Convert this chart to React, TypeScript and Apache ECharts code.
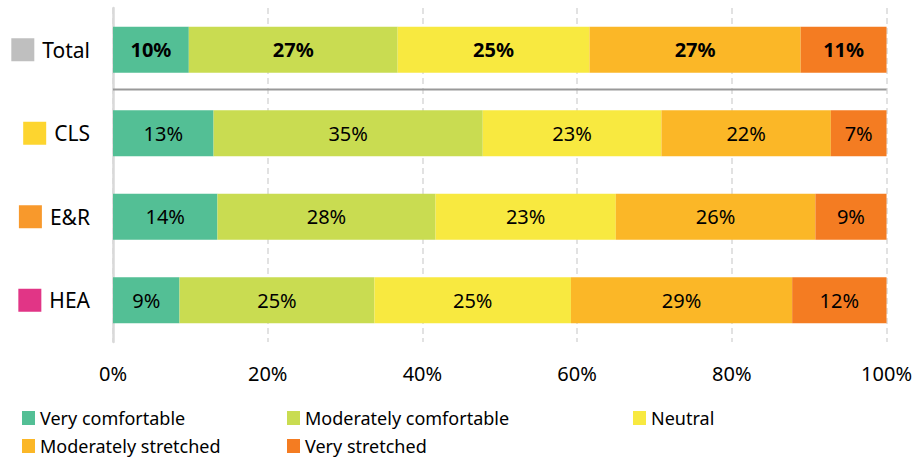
import React, { useEffect, useRef } from "react";
import * as echarts from "echarts";

const categories = ["Total", "CLS", "E&R", "HEA"];
const categoryColors = ["#bfbfbf", "#fdd52f", "#f8992c", "#e13586"];
const seriesNames = [
  "Very comfortable",
  "Moderately comfortable",
  "Neutral",
  "Moderately stretched",
  "Very stretched",
];
const seriesColors = ["#53bf95", "#c9dc51", "#f8e940", "#fbb727", "#f47c22"];
// percentages per category (Total, CLS, E&R, HEA)
const veryComfortable = [9.8, 13.0, 13.5, 8.6];
const moderatelyComfortable = [27.0, 34.8, 28.2, 25.2];
const neutral = [24.8, 23.1, 23.3, 25.4];
const moderatelyStretched = [27.3, 21.9, 25.8, 28.6];
const veryStretched = [11.1, 7.2, 9.2, 12.2];
const xTicks = [0, 20, 40, 60, 80, 100];

const seriesValues = [
  veryComfortable,
  moderatelyComfortable,
  neutral,
  moderatelyStretched,
  veryStretched,
];

// legend layout: [left, top] per series
const legendPos = [
  [22, 408],
  [287, 408],
  [633, 408],
  [22, 436],
  [287, 436],
];

const FONT = "'Noto Sans', 'DejaVu Sans', sans-serif";

export default function App() {
  const ref = useRef<HTMLDivElement>(null);
  useEffect(() => {
    document.body.style.margin = "0";
    if (!ref.current) return;
    const chart = echarts.init(ref.current, null, { renderer: "svg" });
    const rich: Record<string, any> = {
      t: { fontSize: 21, color: "#000", fontFamily: FONT, padding: [0, 0, 0, 8] },
    };
    categories.forEach((c, i) => {
      rich["s" + i] = {
        backgroundColor: categoryColors[i],
        width: 23,
        height: 23,
      };
    });
    chart.setOption({
      animation: false,
      textStyle: { fontFamily: FONT },
      grid: { left: 113, right: 28, top: 8, bottom: 116 },
      legend: seriesNames.map((name, i) => ({
        left: legendPos[i][0],
        top: legendPos[i][1],
        padding: 0,
        itemWidth: 13,
        itemHeight: 14,
        icon: "rect",
        data: [name],
        textStyle: { fontSize: 18, color: "#000", fontFamily: FONT, lineHeight: 20 },
      })),
      xAxis: {
        type: "value",
        min: xTicks[0],
        max: xTicks[xTicks.length - 1],
        interval: 20,
        axisLine: { show: false },
        axisTick: { show: false },
        axisLabel: {
          formatter: "{value}%",
          fontSize: 20,
          color: "#000",
          fontFamily: FONT,
          margin: 21,
        },
        splitLine: {
          show: true,
          lineStyle: { color: "#d9d9d9", width: 1.5, type: [6, 4] },
        },
      },
      yAxis: {
        type: "category",
        inverse: true,
        data: categories,
        axisLine: { show: true, lineStyle: { color: "#d9d9d9", width: 2.5 } },
        axisTick: { show: false },
        axisLabel: {
          margin: 23,
          formatter: (v: string) => {
            const i = categories.indexOf(v);
            return `{s${i}|}{t|${v}}`;
          },
          rich,
        },
        splitLine: { show: false },
      },
      series: seriesNames.map((name, si) => ({
        name,
        type: "bar",
        stack: "all",
        barWidth: "55%",
        itemStyle: { color: seriesColors[si] },
        label: {
          show: true,
          position: "inside",
          fontSize: 20,
          color: "#000",
          fontFamily: FONT,
          formatter: (p: any) => Math.round(p.value) + "%",
        },
        data: seriesValues[si].map((v, ci) =>
          ci === 0 ? { value: v, label: { fontWeight: "bold" } } : v
        ),
      })),
    });
    // separator line between "Total" and the group rows
    const y0 = chart.convertToPixel({ yAxisIndex: 0 }, categories[0]) as number;
    const y1 = chart.convertToPixel({ yAxisIndex: 0 }, categories[1]) as number;
    const xL = chart.convertToPixel({ xAxisIndex: 0 }, xTicks[0]) as number;
    const xR = chart.convertToPixel({ xAxisIndex: 0 }, xTicks[xTicks.length - 1]) as number;
    const ySep = (y0 + y1) / 2 - 2;
    chart.setOption({
      graphic: [
        {
          type: "line",
          shape: { x1: xL, y1: ySep, x2: xR, y2: ySep },
          style: { stroke: "#999999", lineWidth: 2 },
          z: 10,
        },
      ],
    });
    return () => chart.dispose();
  }, []);
  return <div ref={ref} style={{ width: 915, height: 458 }} />;
}
